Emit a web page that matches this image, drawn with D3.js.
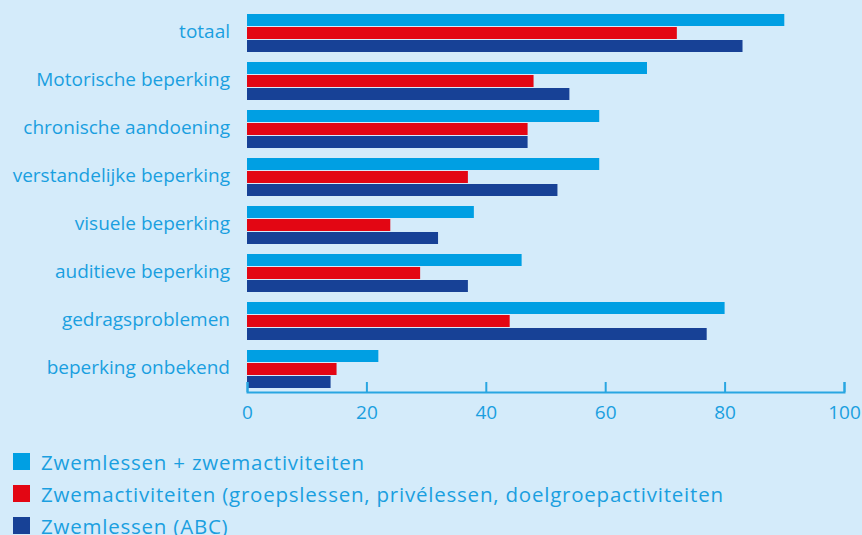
<!DOCTYPE html>
<html><head><meta charset="utf-8">
<script src="https://cdn.jsdelivr.net/npm/d3@7/dist/d3.min.js"></script>
<style>
html,body{margin:0;padding:0;background:#d4ebfa;}
svg{display:block;}
text{font-family:"Open Sans",sans-serif;fill:#1a9fe0;}
</style></head>
<body><svg id="c" width="862" height="535"></svg>
<script>
const categories = ["totaal","Motorische beperking","chronische aandoening","verstandelijke beperking","visuele beperking","auditieve beperking","gedragsproblemen","beperking onbekend"];
const seriesNames = ["Zwemlessen + zwemactiviteiten","Zwemactiviteiten (groepslessen, privélessen, doelgroepactiviteiten","Zwemlessen (ABC)"];
const zwemlessenPlus = [90,67,59,59,38,46,80,22];
const zwemactiviteiten = [72,48,47,37,24,29,44,15];
const zwemlessenABC = [83,54,47,52,32,37,77,14];
const tickValues = [0,20,40,60,80,100];
const colors = ["#009fe3","#e30613","#174196"];

const seriesValues = [zwemlessenPlus, zwemactiviteiten, zwemlessenABC];
const svg = d3.select("#c");
svg.append("rect").attr("width",862).attr("height",535).attr("fill","#d4ebfa");

const x = d3.scaleLinear().domain([0,100]).range([247,844]);
const y = d3.scaleBand().domain(categories).range([14, 14+48*(8-10/48)]).paddingInner(10/48).paddingOuter(0);
const sub = d3.scaleBand().domain([0,1,2]).range([0,y.bandwidth()]).paddingInner(1/13).paddingOuter(0);

const g = svg.append("g");
categories.forEach((c,i)=>{
  seriesValues.forEach((vals,s)=>{
    g.append("rect")
      .attr("x", x(0))
      .attr("y", y(c)+sub(s))
      .attr("width", x(vals[i])-x(0))
      .attr("height", sub.bandwidth())
      .attr("fill", colors[s]);
  });
  svg.append("text")
    .attr("x", 230)
    .attr("y", y(c)+y.bandwidth()/2)
    .attr("dy","0.25em")
    .attr("text-anchor","end")
    .style("font-size","19px")
    .text(c);
});

const axis = d3.axisBottom(x).tickValues(tickValues).tickSizeInner(-10).tickSizeOuter(-10).tickPadding(14);
const ax = svg.append("g").attr("transform","translate(0,392)").call(axis);
ax.selectAll("path,line").attr("stroke","#29a6e1").attr("stroke-width",2);
ax.selectAll("text").style("font-size","19px").style("font-family","'Open Sans',sans-serif").attr("fill","#1a9fe0");

const leg = svg.append("g");
seriesNames.forEach((n,i)=>{
  const top = 453 + i*32;
  leg.append("rect").attr("x",13).attr("y",top).attr("width",17).attr("height",17).attr("fill",colors[i]);
  leg.append("text").attr("x",41).attr("y",top+16.5)
    .style("font-size","20.5px").style("letter-spacing","0.78px").text(n);
});
</script></body></html>
